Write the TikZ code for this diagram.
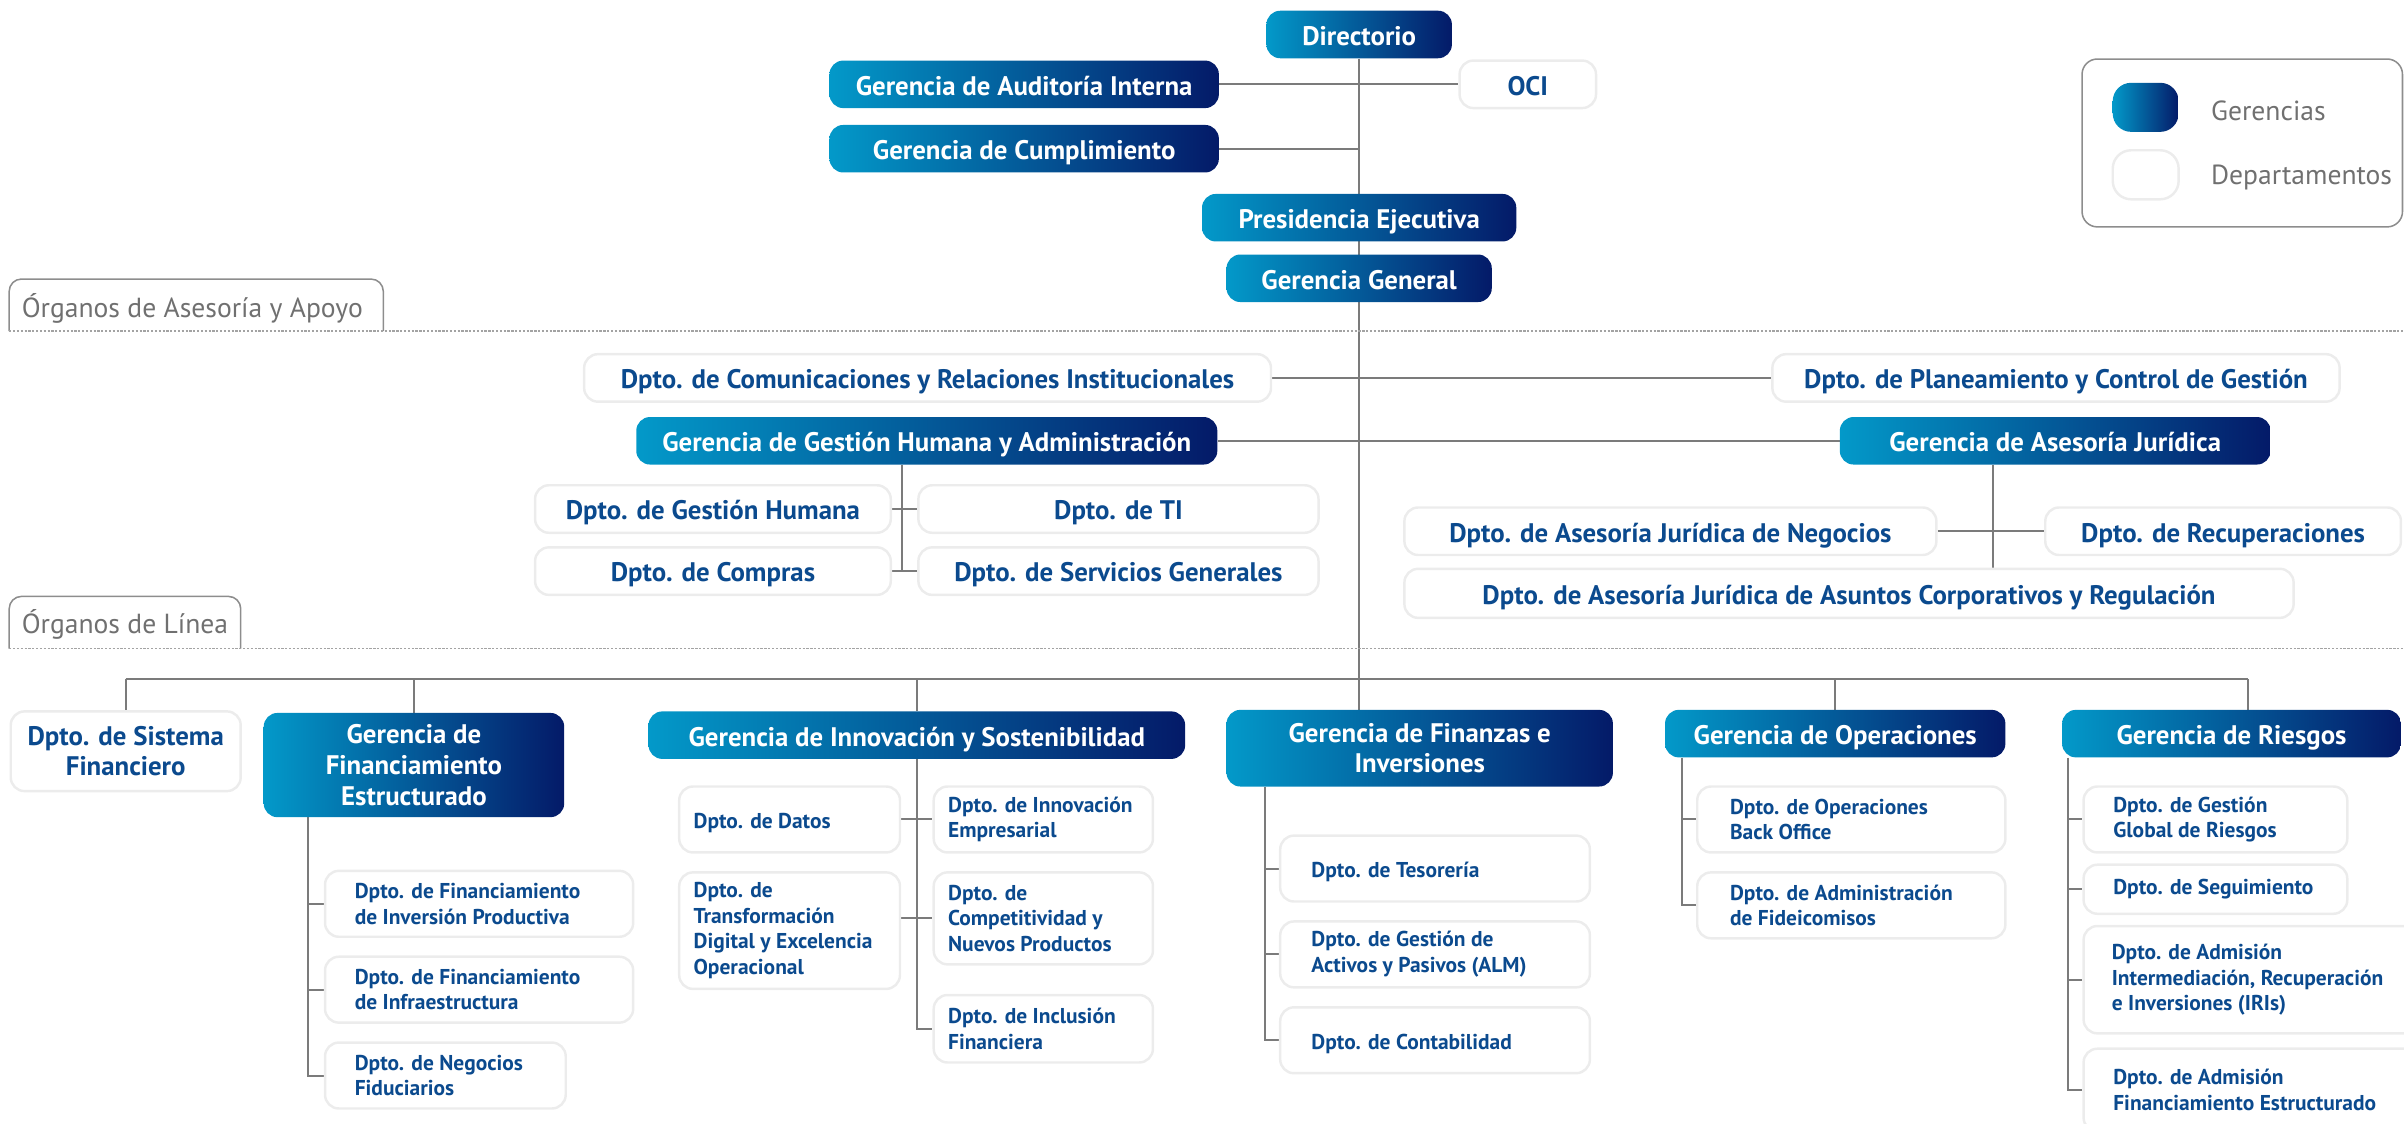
\documentclass[tikz,border=0pt]{standalone}
\usepackage{fontspec}
\setmainfont{PT Sans}
\usetikzlibrary{calc}
\definecolor{gcyan}{HTML}{0399C9}
\definecolor{gnavy}{HTML}{041A68}
\definecolor{dblue}{HTML}{0B4A8E}
\definecolor{lgray}{HTML}{7B7B7B}
\definecolor{tgray}{HTML}{707070}
\definecolor{bgray}{HTML}{ECECEC}
\pgfdeclarelayer{background}
\pgfsetlayers{background,main}
\tikzset{
  gerb/.style={rounded corners=9pt, left color=gcyan, right color=gnavy, text=white,
    font=\bfseries\fontsize{17.5}{20}\selectfont, align=center, inner sep=0pt},
  depb/.style={rounded corners=9pt, fill=white, draw=bgray, line width=1.6pt, text=dblue,
    font=\bfseries\fontsize{17.5}{20}\selectfont, align=center, inner sep=0pt},
  ger/.style={gerb, text height=14.2pt, text depth=0pt},
  dep/.style={depb, text height=14.2pt, text depth=0pt},
  sbox/.style={rounded corners=9pt, fill=white, draw=bgray, line width=1.6pt, inner sep=0pt},
  stext/.style={text=dblue, font=\bfseries\fontsize{14}{16.7}\selectfont, align=left, inner sep=0pt, anchor=west},
  conn/.style={draw=lgray, line width=1.3pt},
  tabc/.style={draw=tgray!80, line width=1pt},
  dashc/.style={draw=lgray!70, line width=1pt, dash pattern=on 1.5pt off 1pt},
  legt/.style={text=tgray, font=\fontsize{18}{20}\selectfont, anchor=west, inner sep=0pt},
}
\begin{document}
\begin{tikzpicture}[x=1pt,y=-1pt]
\useasboundingbox (0,0) rectangle (1568,733);

% ---- top
\node[ger, minimum width=121pt, minimum height=31pt] (dir) at (886.5,22.5) {Directorio};
\node[ger, minimum width=254pt, minimum height=31pt] (aud) at (668,55) {Gerencia de Auditoría Interna};
\node[dep, minimum width=89pt, minimum height=31pt] (oci) at (996.5,55) {OCI};
\node[ger, minimum width=254pt, minimum height=31pt] (cum) at (668,97) {Gerencia de Cumplimiento};
\node[ger, minimum width=205pt, minimum height=31pt] (pre) at (886.5,142) {Presidencia Ejecutiva};
\node[ger, minimum width=173pt, minimum height=31pt] (gg) at (886.5,181.5) {Gerencia General};

% ---- legend
\draw[tabc, rounded corners=10pt] (1358,38.5) rectangle (1567,148);
\node[gerb, minimum width=43pt, minimum height=32pt, rounded corners=12pt] (lg1) at (1399.5,70) {};
\node[depb, minimum width=43pt, minimum height=32pt, rounded corners=12pt] (lg2) at (1399.5,114) {};
\node[legt] (lt1) at (1442,72) {Gerencias};
\node[legt] (lt2) at (1442,116) {Departamentos};

% ---- tabs
\draw[tabc, rounded corners=8pt] (6,216) -- (6,182) -- (250,182) -- (250,216);
\node[legt] (tab1) at (14,201) {Órganos de Asesoría y Apoyo};
\draw[dashc] (6,216) -- (1568,216);
\draw[tabc, rounded corners=8pt] (6,423) -- (6,389) -- (157,389) -- (157,423);
\node[legt] (tab2) at (14,407) {Órganos de Línea};
\draw[dashc] (6,423) -- (1568,423);

% ---- middle
\node[dep, minimum width=448pt, minimum height=31pt] (com) at (605,246.5) {Dpto. de Comunicaciones y Relaciones Institucionales};
\node[dep, minimum width=370pt, minimum height=31pt] (pla) at (1341,246.5) {Dpto. de Planeamiento y Control de Gestión};
\node[ger, minimum width=379pt, minimum height=31pt] (gha) at (604.5,287.5) {Gerencia de Gestión Humana y Administración};
\node[ger, minimum width=281pt, minimum height=31pt] (jur) at (1340.5,287.5) {Gerencia de Asesoría Jurídica};
\node[dep, minimum width=232pt, minimum height=31pt] (dgh) at (465,332) {Dpto. de Gestión Humana};
\node[dep, minimum width=261pt, minimum height=31pt] (dti) at (729.5,332) {Dpto. de TI};
\node[dep, minimum width=232pt, minimum height=31pt] (dco) at (465,372.5) {Dpto. de Compras};
\node[dep, minimum width=261pt, minimum height=31pt] (dsg) at (729.5,372.5) {Dpto. de Servicios Generales};
\node[dep, minimum width=347pt, minimum height=31pt] (neg) at (1089.5,346.5) {Dpto. de Asesoría Jurídica de Negocios};
\node[dep, minimum width=232pt, minimum height=31pt] (rec) at (1450,346.5) {Dpto. de Recuperaciones};
\node[dep, minimum width=580pt, minimum height=32pt] (asc) at (1206,387) {Dpto. de Asesoría Jurídica de Asuntos Corporativos y Regulación};

% ---- line organs
\node[depb, minimum width=150pt, minimum height=52pt] (sf) at (82,490) {Dpto. de Sistema\\Financiero};
\node[gerb, minimum width=196pt, minimum height=68pt] (fe) at (270,499) {Gerencia de\\Financiamiento\\Estructurado};
\node[ger, minimum width=350pt, minimum height=31pt] (inn) at (598,479.5) {Gerencia de Innovación y Sostenibilidad};
\node[gerb, minimum width=252pt, minimum height=50pt] (fin) at (926,488) {Gerencia de Finanzas e\\Inversiones};
\node[ger, minimum width=222pt, minimum height=31pt] (ope) at (1197,478.5) {Gerencia de Operaciones};
\node[ger, minimum width=221pt, minimum height=31pt] (rie) at (1455.5,478.5) {Gerencia de Riesgos};

% FE children
\node[sbox, minimum width=201pt, minimum height=43pt] (fe1) at (312.5,589.5) {};
\node[stext] (fe1t) at ([xshift=20pt]fe1.west) {Dpto. de Financiamiento\\de Inversión Productiva};
\node[sbox, minimum width=201pt, minimum height=43pt] (fe2) at (312.5,645.5) {};
\node[stext] (fe2t) at ([xshift=20pt]fe2.west) {Dpto. de Financiamiento\\de Infraestructura};
\node[sbox, minimum width=157pt, minimum height=43pt] (fe3) at (290.5,701.5) {};
\node[stext] (fe3t) at ([xshift=20pt]fe3.west) {Dpto. de Negocios\\Fiduciarios};

% Innovation children
\node[sbox, minimum width=144pt, minimum height=43pt] (in1) at (515,534.5) {};
\node[stext] (in1t) at ([xshift=10pt,yshift=-2pt]in1.west) {Dpto. de Datos};
\node[sbox, minimum width=143pt, minimum height=43pt] (in2) at (680.5,534.5) {};
\node[stext] (in2t) at ([xshift=10pt]in2.west) {Dpto. de Innovación\\Empresarial};
\node[sbox, minimum width=144pt, minimum height=76pt] (in3) at (515,607) {};
\node[stext] (in3t) at ([xshift=10pt]in3.west) {Dpto. de\\Transformación\\Digital y Excelencia\\Operacional};
\node[sbox, minimum width=143pt, minimum height=60pt] (in4) at (680.5,599) {};
\node[stext] (in4t) at ([xshift=10pt]in4.west) {Dpto. de\\Competitividad y\\Nuevos Productos};
\node[sbox, minimum width=143pt, minimum height=44pt] (in5) at (680.5,671) {};
\node[stext] (in5t) at ([xshift=10pt]in5.west) {Dpto. de Inclusión\\Financiera};

% Finance children
\node[sbox, minimum width=202pt, minimum height=43pt] (fi1) at (936,566.5) {};
\node[stext] (fi1t) at ([xshift=21pt,yshift=-2pt]fi1.west) {Dpto. de Tesorería};
\node[sbox, minimum width=202pt, minimum height=43pt] (fi2) at (936,622.5) {};
\node[stext] (fi2t) at ([xshift=21pt]fi2.west) {Dpto. de Gestión de\\Activos y Pasivos (ALM)};
\node[sbox, minimum width=202pt, minimum height=43pt] (fi3) at (936,678.5) {};
\node[stext] (fi3t) at ([xshift=21pt,yshift=-2.5pt]fi3.west) {Dpto. de Contabilidad};

% Operations children
\node[sbox, minimum width=201pt, minimum height=43pt] (op1) at (1207.5,534.5) {};
\node[stext] (op1t) at ([xshift=22pt]op1.west) {Dpto. de Operaciones\\Back Office};
\node[sbox, minimum width=201pt, minimum height=43pt] (op2) at (1207.5,590.5) {};
\node[stext] (op2t) at ([xshift=22pt]op2.west) {Dpto. de Administración\\de Fideicomisos};

% Risk children
\node[sbox, minimum width=172pt, minimum height=43pt] (ri1) at (1445,534.5) {};
\node[stext] (ri1t) at ([xshift=20pt]ri1.west) {Dpto. de Gestión\\Global de Riesgos};
\node[sbox, minimum width=172pt, minimum height=32pt] (ri2) at (1445,580) {};
\node[stext] (ri2t) at ([xshift=20pt]ri2.west) {Dpto. de Seguimiento};
\node[sbox, minimum width=222pt, minimum height=70pt] (ri3) at (1470,639) {};
\node[stext] (ri3t) at ([xshift=19pt]ri3.west) {Dpto. de Admisión\\Intermediación, Recuperación\\e Inversiones (IRIs)};
\node[sbox, minimum width=222pt, minimum height=54pt] (ri4) at (1470,711) {};
\node[stext] (ri4t) at ([xshift=20pt]ri4.west) {Dpto. de Admisión\\Financiamiento Estructurado};

% ---- helper coordinates
\coordinate (bus) at (0,443);
\coordinate (ghx) at (588,0);
\coordinate (jx) at (1300,0);
\coordinate (rx) at (1466,0);
\coordinate (fex) at (201,0);
\coordinate (fix) at (825,0);
\coordinate (opx) at (1097,0);
\coordinate (rix) at (1349,0);

% ---- connectors
\begin{pgfonlayer}{background}
\draw[conn] (dir.south) -- (dir.south |- fin.north);
\draw[conn] (aud.east) -- (oci.west);
\draw[conn] (cum.east) -- (cum.east -| dir.south);
\draw[conn] (com.east) -- (pla.west);
\draw[conn] (gha.east) -- (jur.west);
\draw[conn] (ghx |- gha.south) -- (ghx |- dco.east);
\draw[conn] (dgh.east) -- (dti.west);
\draw[conn] (dco.east) -- (dsg.west);
\draw[conn] (jx |- jur.south) -- (jx |- asc.north);
\draw[conn] (neg.east) -- (rec.west);
\draw[conn] (sf.north |- bus) -- (rx |- bus);
\draw[conn] (sf.north |- bus) -- (sf.north);
\draw[conn] (fe.north |- bus) -- (fe.north);
\draw[conn] (inn.north |- bus) -- (inn.north);
\draw[conn] (ope.north |- bus) -- (ope.north);
\draw[conn] (rx |- bus) -- (rx |- rie.north);
% FE
\draw[conn] (fex |- fe.south) -- (fex |- fe3.west) -- (fe3.west);
\draw[conn] (fex |- fe1.west) -- (fe1.west);
\draw[conn] (fex |- fe2.west) -- (fe2.west);
% Innovation
\draw[conn] (inn.south) -- (inn.south |- in5.west) -- (in5.west);
\draw[conn] (in1.east) -- (in2.west);
\draw[conn] (in3.east |- in4.west) -- (in4.west);
% Finance
\draw[conn] (fix |- fin.south) -- (fix |- fi3.west) -- (fi3.west);
\draw[conn] (fix |- fi1.west) -- (fi1.west);
\draw[conn] (fix |- fi2.west) -- (fi2.west);
% Operations
\draw[conn] (opx |- ope.south) -- (opx |- op2.west) -- (op2.west);
\draw[conn] (opx |- op1.west) -- (op1.west);
% Risk
\draw[conn] (rix |- rie.south) -- (rix |- ri4.west) -- (ri4.west);
\draw[conn] (rix |- ri1.west) -- (ri1.west);
\draw[conn] (rix |- ri2.west) -- (ri2.west);
\draw[conn] (rix |- ri3.west) -- (ri3.west);
\end{pgfonlayer}
\end{tikzpicture}
\end{document}
